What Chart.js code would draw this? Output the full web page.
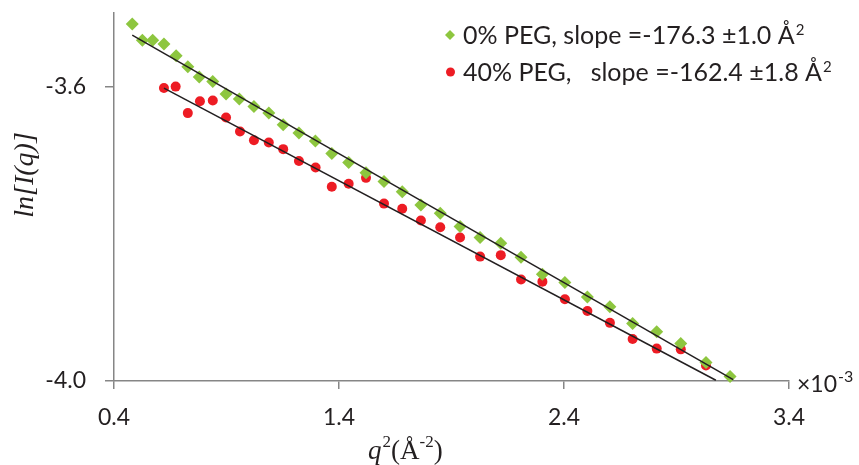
<!DOCTYPE html>
<html>
<head>
<meta charset="utf-8">
<script src="https://cdn.jsdelivr.net/npm/chart.js@4.4.1/dist/chart.umd.min.js"></script>
<style>
  html, body { margin: 0; background: #fff; }
</style>
</head>
<body>
<canvas id="chart" width="859" height="465"></canvas>
<script>
// q^2 in units of 1e-3 A^-2, ln[I(q)]
const peg0X = [0.481, 0.526, 0.572, 0.622, 0.676, 0.728, 0.779, 0.839, 0.898, 0.957,
  1.022, 1.088, 1.152, 1.222, 1.295, 1.368, 1.443, 1.520, 1.600, 1.681,
  1.764, 1.850, 1.938, 2.027, 2.119, 2.209, 2.304, 2.404, 2.504, 2.604,
  2.705, 2.812, 2.919, 3.031, 3.138];
const peg0Y = [-3.515, -3.537, -3.537, -3.542, -3.558, -3.573, -3.587, -3.593, -3.610, -3.617,
  -3.627, -3.636, -3.652, -3.663, -3.674, -3.691, -3.703, -3.717, -3.729, -3.743,
  -3.761, -3.772, -3.790, -3.805, -3.813, -3.832, -3.855, -3.866, -3.886, -3.899,
  -3.922, -3.933, -3.949, -3.975, -3.994];

const peg40X = [0.622, 0.674, 0.728, 0.782, 0.839, 0.898, 0.960, 1.022, 1.088, 1.152,
  1.222, 1.296, 1.368, 1.443, 1.520, 1.600, 1.681, 1.764, 1.850, 1.938,
  2.027, 2.119, 2.209, 2.304, 2.404, 2.504, 2.604, 2.705, 2.812, 2.919, 3.031];
const peg40Y = [-3.602, -3.600, -3.636, -3.620, -3.619, -3.642, -3.661, -3.673, -3.676, -3.685,
  -3.701, -3.710, -3.736, -3.732, -3.724, -3.759, -3.766, -3.782, -3.791, -3.805,
  -3.831, -3.829, -3.862, -3.865, -3.889, -3.905, -3.921, -3.943, -3.956, -3.957, -3.979];

// fitted lines, end points
const fit0X = [0.481, 3.152];
const fit0Y = [-3.530, -3.998];
const fit40X = [0.622, 3.075];
const fit40Y = [-3.602, -3.999];

// legend text, the trailing "2" is drawn as a superscript
const seriesLabels = ['0% PEG, slope =-176.3 \u00b11.0 \u00c5', '40% PEG,   slope =-162.4 \u00b11.8 \u00c5'];
const xTicks = [0.4, 1.4, 2.4, 3.4];
const yTicks = [-4.0, -3.6];

const GREEN = '#8dc63f';
const RED = '#ed1c24';
const AXIS = '#868686';
const INK = '#231f20';

const pts = (xs, ys) => xs.map((x, i) => ({ x: x, y: ys[i] }));

// titles, legend and the x10^-3 note
const extras = {
  id: 'extras',
  afterDraw(chart) {
    const ctx = chart.ctx;
    ctx.save();
    ctx.textBaseline = 'middle';
    ctx.textAlign = 'left';

    // legend
    const legendRows = [
      { y: 35, color: GREEN, diamond: true, text: seriesLabels[0] },
      { y: 72, color: RED, diamond: false, text: seriesLabels[1] }
    ];
    legendRows.forEach(r => {
      ctx.fillStyle = r.color;
      ctx.beginPath();
      if (r.diamond) {
        ctx.moveTo(450, r.y - 5); ctx.lineTo(455, r.y); ctx.lineTo(450, r.y + 5); ctx.lineTo(445, r.y);
      } else {
        ctx.arc(450.5, r.y, 4.5, 0, Math.PI * 2);
      }
      ctx.closePath();
      ctx.fill();
      ctx.fillStyle = INK;
      ctx.font = '25px Lato';
      ctx.fillText(r.text, 463, r.y + 1);
      const tw = ctx.measureText(r.text).width;
      ctx.font = '15px Lato';
      ctx.fillText('2', 463 + tw + 1, r.y - 5);
    });

    // x10^-3
    ctx.font = '23px Lato';
    ctx.fillText('\u00d710', 797, 385);
    const w = ctx.measureText('\u00d710').width;
    ctx.font = '16px Lato';
    ctx.fillText('-3', 797 + w + 1, 377);

    // y title
    ctx.save();
    ctx.translate(26, 175);
    ctx.rotate(-Math.PI / 2);
    ctx.font = 'italic 28px "Liberation Serif"';
    ctx.textAlign = 'center';
    ctx.fillText('ln[I(q)]', 0, 0);
    ctx.restore();

    // x title: q^2(A^-2)
    let x = 368;
    const y = 452;
    const parts = [
      ['italic 27px "Liberation Serif"', 'q', 0, 1],
      ['17px "Liberation Serif"', '2', -9, 0],
      ['27px "Liberation Serif"', '(\u00c5', 0, 0],
      ['17px "Liberation Serif"', '-2', -9, 0],
      ['27px "Liberation Serif"', ')', 0, 0]
    ];
    parts.forEach(p => {
      ctx.font = p[0];
      ctx.fillText(p[1], x, y + p[2]);
      x += ctx.measureText(p[1]).width + p[3];
    });
    ctx.restore();
  }
};

new Chart(document.getElementById('chart').getContext('2d'), {
  type: 'scatter',
  data: {
    datasets: [
      { data: pts(fit0X, fit0Y), showLine: true, borderColor: INK, borderWidth: 1.5, pointRadius: 0 },
      { data: pts(fit40X, fit40Y), showLine: true, borderColor: INK, borderWidth: 1.5, pointRadius: 0 },
      { label: seriesLabels[0], data: pts(peg0X, peg0Y), pointStyle: 'rectRot', pointRadius: 6.5,
        backgroundColor: GREEN, borderColor: GREEN, borderWidth: 0 },
      { label: seriesLabels[1], data: pts(peg40X, peg40Y), pointStyle: 'circle', pointRadius: 5,
        backgroundColor: RED, borderColor: RED, borderWidth: 0 }
    ]
  },
  options: {
    responsive: false,
    animation: false,
    clip: false,
    layout: { padding: { left: 0, top: 13, right: 70, bottom: 0 } },
    plugins: { legend: { display: false }, tooltip: { enabled: false } },
    scales: {
      x: {
        type: 'linear', min: 0.4, max: 3.4,
        afterBuildTicks: axis => { axis.ticks = xTicks.map(v => ({ value: v })); },
        afterFit: scale => { scale.height = 84; },
        grid: { drawOnChartArea: false, drawTicks: true, tickLength: 8, color: AXIS, lineWidth: 1.5 },
        border: { color: AXIS, width: 1.5 },
        ticks: { color: INK, font: { family: 'Lato', size: 23 }, padding: 15, maxRotation: 0,
          callback: v => v.toFixed(1) }
      },
      y: {
        type: 'linear', min: -4.0, max: -3.5,
        afterBuildTicks: axis => { axis.ticks = yTicks.map(v => ({ value: v })); },
        afterFit: scale => { scale.width = 114; scale.paddingTop = 0; scale.paddingBottom = 0; },
        grid: { drawOnChartArea: false, drawTicks: true, tickLength: 9, color: AXIS, lineWidth: 1.5 },
        border: { color: AXIS, width: 1.5 },
        ticks: { color: INK, font: { family: 'Lato', size: 23 }, padding: 19,
          callback: v => v.toFixed(1) }
      }
    }
  },
  plugins: [extras]
});
</script>
</body>
</html>
